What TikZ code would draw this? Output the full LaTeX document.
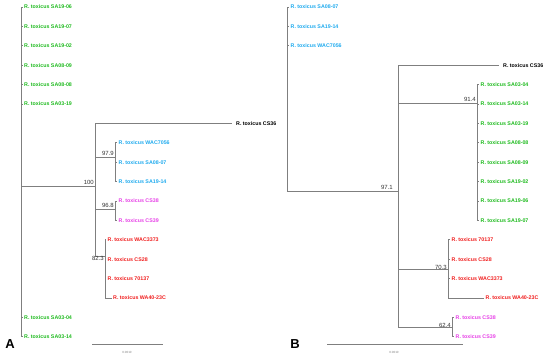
\documentclass[tikz,border=0pt]{standalone}
\usepackage{fontspec}
\setmainfont{Liberation Sans}
\usetikzlibrary{positioning}
\definecolor{treegray}{HTML}{7F7F7F}
\definecolor{cladegreen}{HTML}{1EBA1E}
\definecolor{cladeblue}{HTML}{1EAAEE}
\definecolor{cladepink}{HTML}{E640E6}
\definecolor{cladered}{HTML}{F01E1E}
\tikzset{branch/.style={draw=treegray,line width=0.8pt},leaf/.style={anchor=west,inner sep=1.5pt,font=\bfseries\fontsize{5.3}{6}\selectfont},far/.style={leaf,inner xsep=4pt},boot/.style={anchor=south east,inner sep=1pt,font=\fontsize{6}{7}\selectfont,text=black!80}}

\begin{document}
\begin{tikzpicture}[x=1pt,y=-1pt,
scalebar/.style={draw=treegray,line width=0.8pt},
scaletxt/.style={font=\fontsize{3}{3.5}\selectfont,text=treegray},
panel/.style={font=\bfseries\fontsize{13}{15}\selectfont}]
\useasboundingbox (0,0) rectangle (550,363);
% tree A
\coordinate (rootA) at (21,186);\coordinate (cladeA) at (95,186);
\coordinate (blueA) at (115,157);\coordinate (pinkA) at (115,209);\coordinate (redA) at (105,256);
\foreach \nm/\tx [count=\i from 0] in {a1906/SA19-06,a1907/SA19-07,a1902/SA19-02,a0809/SA08-09,a0808/SA08-08,a0319/SA03-19}{\node[leaf,text=cladegreen] (\nm) at (22.5,{7+19.4*\i}) {R. toxicus \tx};}
\node[leaf,text=cladegreen] (a0304) at (22.5,317.4) {R. toxicus SA03-04};
\node[leaf,text=cladegreen] (a0314) at (22.5,336.8) {R. toxicus SA03-14};
\node[far] (acs36) at (232,123.4) {R. toxicus CS36};
\node[leaf,text=cladeblue] (awac7056) at (117,142.8) {R. toxicus WAC7056};
\node[leaf,text=cladeblue] (a0807) at (117,162.2) {R. toxicus SA08-07};
\node[leaf,text=cladeblue] (a1914) at (117,181.6) {R. toxicus SA19-14};
\node[leaf,text=cladepink] (acs38) at (117,201) {R. toxicus CS38};
\node[leaf,text=cladepink] (acs39) at (117,220.4) {R. toxicus CS39};
\node[leaf,text=cladered] (awac3373) at (106,239.8) {R. toxicus WAC3373};
\node[leaf,text=cladered] (acs28) at (106,259.2) {R. toxicus CS28};
\node[leaf,text=cladered] (a70137) at (106,278.6) {R. toxicus 70137};
\node[leaf,text=cladered] (awa40) at (111.5,298) {R. toxicus WA40-23C};
\foreach \nm in {a1906,a1907,a1902,a0809,a0808,a0319,a0304,a0314}{\draw[branch] (rootA) |- (\nm.west);}
\draw[branch] (rootA) -- (cladeA);
\foreach \nd in {blueA,pinkA,redA}{\draw[branch] (cladeA) |- (\nd);}
\draw[branch] (cladeA) |- (acs36.west);
\foreach \nm in {awac7056,a0807,a1914}{\draw[branch] (blueA) |- (\nm.west);}
\foreach \nm in {acs38,acs39}{\draw[branch] (pinkA) |- (\nm.west);}
\foreach \nm in {awac3373,acs28,a70137,awa40}{\draw[branch] (redA) |- (\nm.west);}
\node[boot] (bA1) at (cladeA) {100};
\node[boot] (bA2) at (blueA) {97.9};
\node[boot] (bA3) at (pinkA) {96.8};
\node[boot,anchor=east,yshift=-2.5pt] (bA4) at (redA) {82.3};
\coordinate (sbA1) at (92,344);\coordinate (sbA2) at (163,344);
\draw[scalebar] (sbA1) -- (sbA2);
\node[scaletxt] (stA) at (127,352) {0.0010};
\node[panel] (labA) at (10,344) {A};
% tree B
\coordinate (rootB) at (287,191);\coordinate (cladeB) at (398,191);
\coordinate (greenB) at (477,103);\coordinate (redB) at (448,269);\coordinate (pinkB) at (452,327);
\node[leaf,text=cladeblue] (b0807) at (289,7) {R. toxicus SA08-07};
\node[leaf,text=cladeblue] (b1914) at (289,26.4) {R. toxicus SA19-14};
\node[leaf,text=cladeblue] (bwac7056) at (289,45.8) {R. toxicus WAC7056};
\node[far] (bcs36) at (499,65.2) {R. toxicus CS36};
\foreach \nm/\tx [count=\i from 4] in {b0304/SA03-04,b0314/SA03-14,b0319/SA03-19,b0808/SA08-08,b0809/SA08-09,b1902/SA19-02,b1906/SA19-06,b1907/SA19-07}{\node[leaf,text=cladegreen] (\nm) at (479,{7+19.4*\i}) {R. toxicus \tx};}
\node[leaf,text=cladered] (b70137) at (450,239.8) {R. toxicus 70137};
\node[leaf,text=cladered] (bcs28) at (450,259.2) {R. toxicus CS28};
\node[leaf,text=cladered] (bwac3373) at (450,278.6) {R. toxicus WAC3373};
\node[leaf,text=cladered] (bwa40) at (484,298) {R. toxicus WA40-23C};
\node[leaf,text=cladepink] (bcs38) at (454,317.4) {R. toxicus CS38};
\node[leaf,text=cladepink] (bcs39) at (454,336.8) {R. toxicus CS39};
\foreach \nm in {b0807,b1914,bwac7056}{\draw[branch] (rootB) |- (\nm.west);}
\draw[branch] (rootB) -- (cladeB);
\draw[branch] (cladeB) |- (bcs36.west);
\foreach \nd in {greenB,redB,pinkB}{\draw[branch] (cladeB) |- (\nd);}
\foreach \nm in {b0304,b0314,b0319,b0808,b0809,b1902,b1906,b1907}{\draw[branch] (greenB) |- (\nm.west);}
\foreach \nm in {b70137,bcs28,bwac3373,bwa40}{\draw[branch] (redB) |- (\nm.west);}
\foreach \nm in {bcs38,bcs39}{\draw[branch] (pinkB) |- (\nm.west);}
\node[boot,xshift=-4pt] (bB1) at (cladeB) {97.1};
\node[boot] (bB2) at (greenB) {91.4};
\node[boot,yshift=-2pt] (bB3) at (redB) {70.3};
\node[boot,yshift=-2pt] (bB4) at (pinkB) {62.4};
\coordinate (sbB1) at (327,344);\coordinate (sbB2) at (463,344);
\draw[scalebar] (sbB1) -- (sbB2);
\node[scaletxt] (stB) at (394,352) {0.0010};
\node[panel] (labB) at (295,344) {B};
\end{tikzpicture}
\end{document}
